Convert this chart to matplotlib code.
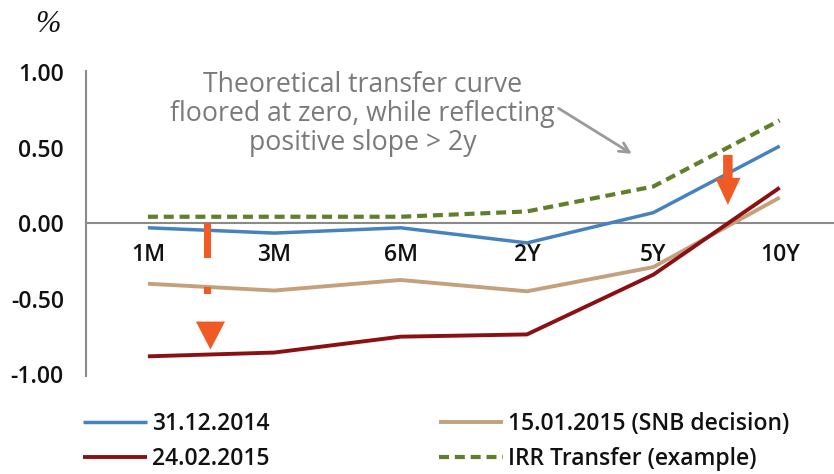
import matplotlib
matplotlib.use("Agg")
import matplotlib.pyplot as plt
from matplotlib.patches import Polygon

# %% data
tenors = ["1M", "3M", "6M", "2Y", "5Y", "10Y"]
curve_dec14 = [-0.03, -0.065, -0.03, -0.13, 0.07, 0.51]
curve_jan15 = [-0.40, -0.445, -0.375, -0.45, -0.29, 0.17]
curve_feb15 = [-0.88, -0.855, -0.75, -0.735, -0.34, 0.235]
curve_irr = [0.043, 0.043, 0.043, 0.078, 0.243, 0.68]

yticks = [-1.0, -0.5, 0.0, 0.5, 1.0]

BLUE = "#4682be"
TAN = "#c4a07c"
DARKRED = "#8a1014"
GREEN = "#5f7f2a"
ORANGE = "#f05a24"
GREY = "#8a8a8a"

plt.rcParams["font.family"] = ["Open Sans", "DejaVu Sans"]
FS = 16.5

W, H = 834, 474
fig = plt.figure(figsize=(W / 100, H / 100), dpi=100)
ax = fig.add_axes([86 / W, 1 - 376 / H, (W - 86) / W, (376 - 70.5) / H])

x = list(range(len(tenors)))
l1, = ax.plot(x, curve_dec14, color=BLUE, lw=2.5, zorder=3, solid_capstyle="butt")
l2, = ax.plot(x, curve_jan15, color=TAN, lw=2.8, zorder=3, solid_capstyle="butt")
l3, = ax.plot(x, curve_feb15, color=DARKRED, lw=2.8, zorder=3, solid_capstyle="butt")
l4, = ax.plot(x, curve_irr, color=GREEN, lw=3, zorder=3, dashes=(2.4, 1.4))

ax.set_xlim(-0.49, 5.43)
ax.set_ylim(-1.01, 1.01)

for s in ["top", "right"]:
    ax.spines[s].set_visible(False)
ax.spines["left"].set_color(GREY)
ax.spines["left"].set_linewidth(1.5)
ax.spines["bottom"].set_position(("data", 0))
ax.spines["bottom"].set_color(GREY)
ax.spines["bottom"].set_linewidth(1.5)

ax.set_yticks(yticks)
ax.set_yticklabels([f"{v:.2f}" for v in yticks], fontweight="semibold")
ax.set_xticks(x)
ax.set_xticklabels(tenors, fontweight="semibold")
ax.tick_params(axis="y", length=0, pad=16, labelsize=FS, labelcolor="#111111")
ax.tick_params(axis="x", length=0, pad=14, labelsize=FS, labelcolor="#111111")


# orange down arrows (annotation marks)
def down_arrow(xc, y_top, y_head, y_tip, shaft_w, head_w):
    pts = [(xc - shaft_w / 2, y_top), (xc + shaft_w / 2, y_top),
           (xc + shaft_w / 2, y_head), (xc + head_w / 2, y_head),
           (xc, y_tip), (xc - head_w / 2, y_head), (xc - shaft_w / 2, y_head)]
    ax.add_patch(Polygon(pts, closed=True, color=ORANGE, lw=0, zorder=5))


# left arrow: shaft partly hidden
ax.add_patch(Polygon([(0.447, 0.0), (0.503, 0.0), (0.503, -0.228), (0.447, -0.228)],
                     color=ORANGE, lw=0, zorder=5))
ax.add_patch(Polygon([(0.447, -0.42), (0.503, -0.42), (0.503, -0.47), (0.447, -0.47)],
                     color=ORANGE, lw=0, zorder=5))
ax.add_patch(Polygon([(0.38, -0.65), (0.61, -0.65), (0.495, -0.835)],
                     color=ORANGE, lw=0, zorder=5))
# right arrow
down_arrow(4.59, 0.452, 0.30, 0.122, 0.075, 0.2)

# annotation
ax.text(1.70, 0.72, "Theoretical transfer curve\nfloored at zero, while reflecting\npositive slope > 2y",
        ha="center", va="center", fontsize=19.2, color="#7a7a7a", linespacing=1.05)
ax.annotate("", xy=(3.83, 0.459), xytext=(3.25, 0.76),
            arrowprops=dict(arrowstyle="->,head_length=0.7,head_width=0.35",
                            color="#9a9a9a", lw=2, shrinkA=0, shrinkB=0))

# "%" unit label
fig.text(48 / W, 1 - 25 / H, "%", family=["Liberation Serif", "DejaVu Serif"],
         style="italic", fontsize=22, ha="center", va="center", color="#111111")

# legend: two columns placed separately
leg_kw = dict(loc="upper left", frameon=False, borderpad=0,
              borderaxespad=0, handlelength=2.8, handletextpad=0.2,
              labelspacing=0.5, labelcolor="#111111",
              prop=dict(size=FS, weight="semibold"))
fig.legend([l1, l3], ["31.12.2014", "24.02.2015"],
           bbox_to_anchor=(83 / W, 1 - 412 / H), **leg_kw)
fig.legend([l2, l4], ["15.01.2015 (SNB decision)", "IRR Transfer (example)"],
           bbox_to_anchor=(439 / W, 1 - 412 / H), **leg_kw)

fig.savefig("out.png", dpi=100)
